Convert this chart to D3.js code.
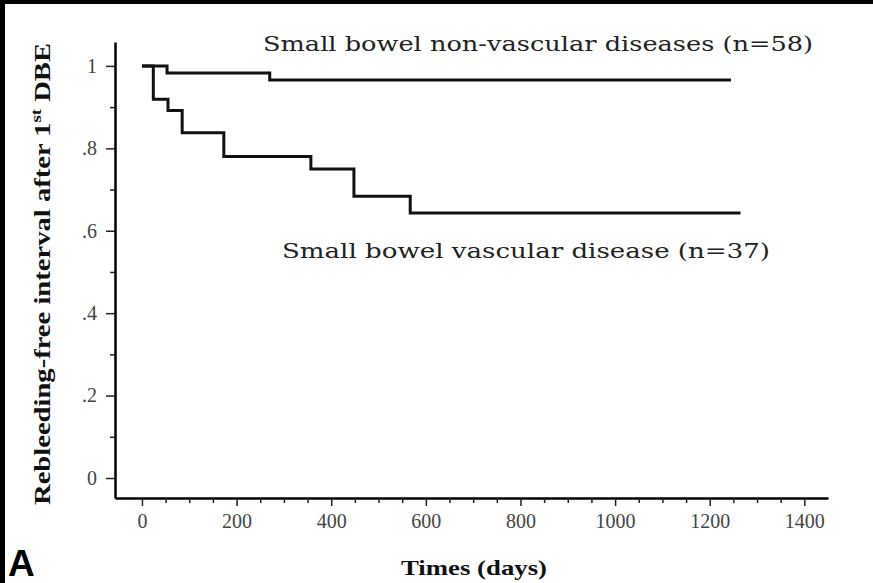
<!DOCTYPE html>
<html>
<head>
<meta charset="utf-8">
<script src="https://cdn.jsdelivr.net/npm/d3@7"></script>
<style>
  body { margin: 0; background: #000; }
</style>
</head>
<body>
<div id="chart"></div>
<script>
// Kaplan-Meier step data
var nonVascTime = [0, 53, 270, 1245];
var nonVascSurv = [1, 0.983, 0.966, 0.966];
var vascTime = [0, 24, 55, 85, 173, 357, 448, 567, 1265];
var vascSurv = [1, 0.919, 0.892, 0.838, 0.78, 0.75, 0.684, 0.643, 0.643];

var xTicks = [0, 200, 400, 600, 800, 1000, 1200, 1400];
var xMinor = d3.range(50, 1450, 50).filter(function(d) { return d % 200 !== 0; });
var yTicks = [0, 0.2, 0.4, 0.6, 0.8, 1];
var yMinor = [0.1, 0.3, 0.5, 0.7, 0.9];

var W = 873, H = 583;
var plot = {left: 115, right: 828, top: 42, bottom: 498};
var serif = "Liberation Serif, Times New Roman, serif";

var x = d3.scaleLinear().domain([-57, 1450]).range([plot.left, plot.right]);
var y = d3.scaleLinear().domain([-0.0485, 1.058]).range([plot.bottom, plot.top]);

var svg = d3.select("#chart").append("svg")
    .attr("width", W)
    .attr("height", H);

svg.append("rect").attr("width", W).attr("height", H).attr("fill", "#000");
svg.append("rect").attr("x", 5).attr("y", 4).attr("width", W - 5).attr("height", H - 4).attr("fill", "#fff");

// x axis
svg.append("g")
    .attr("transform", "translate(0," + plot.bottom + ")")
    .call(d3.axisBottom(x).tickValues(xTicks).tickSize(8).tickSizeOuter(0).tickPadding(8).tickFormat(d3.format("d")));
svg.append("g")
    .attr("transform", "translate(0," + plot.bottom + ")")
    .call(d3.axisBottom(x).tickValues(xMinor).tickSize(5).tickFormat("").tickSizeOuter(0))
    .select(".domain").remove();

// y axis
svg.append("g")
    .attr("transform", "translate(" + plot.left + ",0)")
    .call(d3.axisLeft(y).tickValues(yTicks).tickSize(9).tickSizeOuter(0).tickPadding(9)
      .tickFormat(function(d) { return d === 0 ? "0" : d === 1 ? "1" : d3.format(".1f")(d).replace("0.", "."); }));
svg.append("g")
    .attr("transform", "translate(" + plot.left + ",0)")
    .call(d3.axisLeft(y).tickValues(yMinor).tickSize(5).tickFormat("").tickSizeOuter(0))
    .select(".domain").remove();

svg.selectAll(".domain").attr("stroke", "#000").attr("stroke-width", 2.5);
svg.selectAll(".tick line").attr("stroke", "#222").attr("stroke-width", 1.5);
svg.selectAll(".tick text")
    .attr("font-family", "Liberation Sans Narrow, Liberation Serif, serif")
    .attr("font-size", 20)
    .attr("fill", "#444");

// curves
var line = d3.line()
    .x(function(d) { return x(d[0]); })
    .y(function(d) { return y(d[1]); })
    .curve(d3.curveStepAfter);

svg.append("path")
    .datum(d3.zip(nonVascTime, nonVascSurv))
    .attr("d", line)
    .attr("fill", "none")
    .attr("stroke", "#111")
    .attr("stroke-width", 3);

svg.append("path")
    .datum(d3.zip(vascTime, vascSurv))
    .attr("d", line)
    .attr("fill", "none")
    .attr("stroke", "#111")
    .attr("stroke-width", 3);

// curve labels
svg.append("text")
    .attr("x", 263).attr("y", 51)
    .attr("font-family", "DejaVu Serif, serif")
    .attr("font-size", 21)
    .attr("fill", "#222")
    .attr("textLength", 550).attr("lengthAdjust", "spacingAndGlyphs")
    .text("Small bowel non-vascular diseases (n=58)");

svg.append("text")
    .attr("x", 282).attr("y", 258)
    .attr("font-family", "DejaVu Serif, serif")
    .attr("font-size", 21)
    .attr("fill", "#222")
    .attr("textLength", 488).attr("lengthAdjust", "spacingAndGlyphs")
    .text("Small bowel vascular disease (n=37)");

// axis titles
svg.append("text")
    .attr("x", 474).attr("y", 575)
    .attr("text-anchor", "middle")
    .attr("font-family", serif)
    .attr("font-size", 22)
    .attr("font-weight", "bold")
    .attr("fill", "#111")
    .attr("textLength", 146).attr("lengthAdjust", "spacingAndGlyphs")
    .text("Times (days)");

var yt = svg.append("text")
    .attr("transform", "translate(50,274) rotate(-90)")
    .attr("text-anchor", "middle")
    .attr("font-family", serif)
    .attr("font-size", 23)
    .attr("font-weight", "bold")
    .attr("fill", "#111")
    .attr("textLength", 462).attr("lengthAdjust", "spacingAndGlyphs");
yt.append("tspan").text("Rebleeding-free interval after 1");
yt.append("tspan").attr("font-size", 15).attr("dy", -9).text("st");
yt.append("tspan").attr("dy", 9).text(" DBE");

svg.append("text")
    .attr("x", 8).attr("y", 576)
    .attr("font-family", "Liberation Sans, Arial, sans-serif")
    .attr("font-size", 37)
    .attr("font-weight", "bold")
    .attr("fill", "#000")
    .text("A");
</script>
</body>
</html>
